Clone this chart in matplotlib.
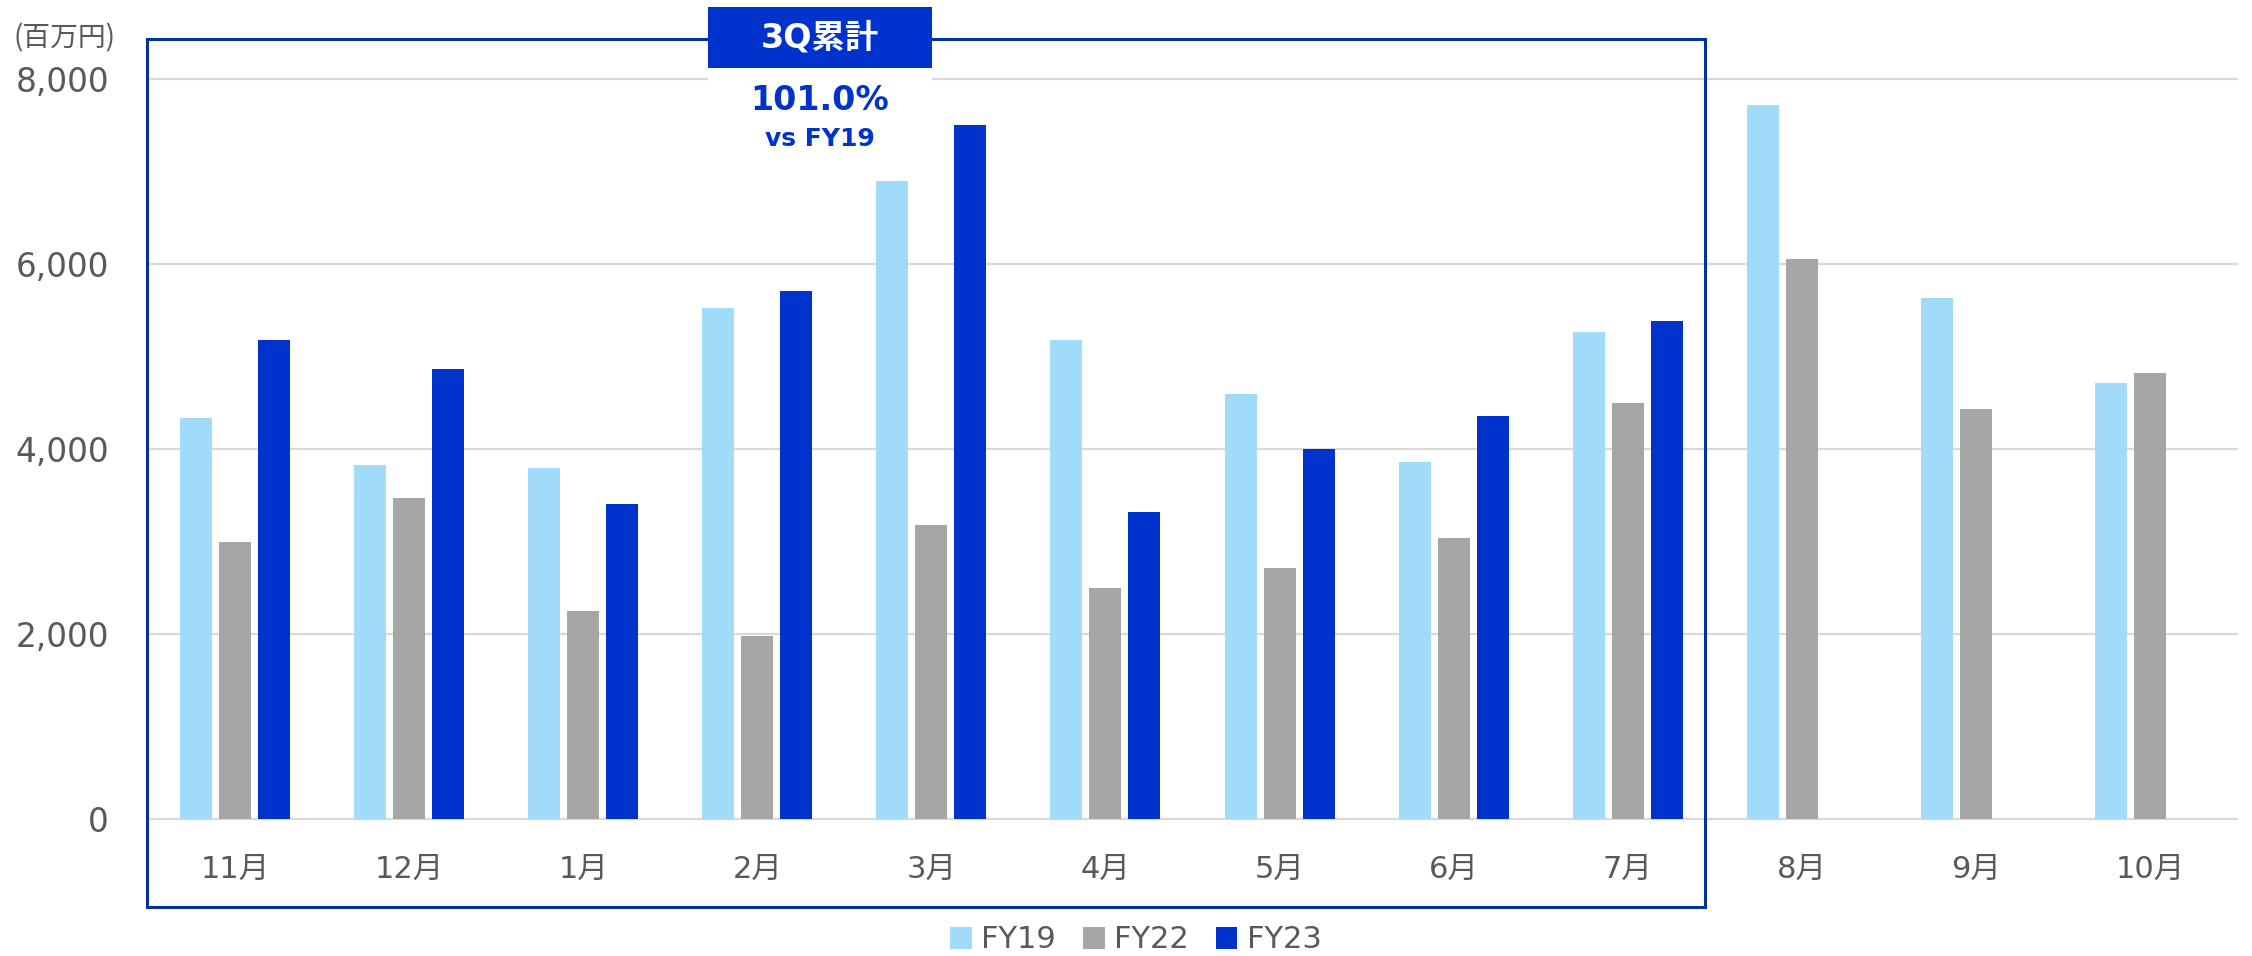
import numpy as np
import matplotlib.pyplot as plt
from matplotlib.patches import Rectangle, Patch
from matplotlib.ticker import FuncFormatter

plt.rcParams['font.family'] = ['DejaVu Sans', 'Noto Sans CJK JP']

# ---- data (百万円) ----
months = ['11月', '12月', '1月', '2月', '3月', '4月', '5月', '6月', '7月', '8月', '9月', '10月']
fy19 = [4340, 3830, 3800, 5520, 6900, 5180, 4600, 3860, 5270, 7720, 5630, 4710]
fy22 = [2990, 3470, 2250, 1980, 3180, 2500, 2710, 3040, 4500, 6050, 4430, 4820]
fy23 = [5180, 4870, 3410, 5710, 7500, 3320, 4000, 4360, 5380, np.nan, np.nan, np.nan]
series_names = ['FY19', 'FY22', 'FY23']
colors = ['#A0DCFA', '#A6A6A6', '#0033CC']

W, H = 2252, 956
fig = plt.figure(figsize=(W / 100, H / 100), dpi=100)
ax = fig.add_axes([148 / W, 1 - 819 / H, (2237 - 148) / W, (819 - 79) / H])

x = np.arange(len(months))
bw = 0.184
off = 0.224
for i, (vals, c) in enumerate(zip([fy19, fy22, fy23], colors)):
    ax.bar(x + (i - 1) * off, vals, width=bw, color=c, zorder=3)

ax.set_xlim(-0.5, len(months) - 0.5)
ax.set_ylim(0, 8000)
ax.set_yticks([0, 2000, 4000, 6000, 8000])
ax.yaxis.set_major_formatter(FuncFormatter(lambda v, p: f"{int(v):,}"))
ax.set_xticks(x)
ax.set_xticklabels(months)
ax.tick_params(axis='y', length=0, pad=28, labelsize=23.5, labelcolor='#595959')
ax.tick_params(axis='x', length=0, pad=26, labelsize=22, labelcolor='#595959')

ax.grid(axis='y', color='#D9D9D9', linewidth=1.6, zorder=0)
for gl in ax.get_ygridlines():
    gl.set_clip_on(False)
ax.set_axisbelow(True)
for s in ax.spines.values():
    s.set_visible(False)

# unit label
fig.text(14 / W, 1 - 38 / H, '(百万円)', fontsize=20, color='#595959',
         ha='left', va='center', family=['Noto Sans CJK JP'])

# 3Q box outline
fig.add_artist(Rectangle((147 / W, 1 - 907 / H), (1705 - 147) / W, (907 - 39) / H,
                         transform=fig.transFigure, fill=False,
                         edgecolor='#0033A0', linewidth=2.2, zorder=5))
# white area behind the annotation
fig.add_artist(Rectangle((708 / W, 1 - 158 / H), (932 - 708) / W, (158 - 68) / H,
                         transform=fig.transFigure, facecolor='white',
                         edgecolor='none', zorder=6))
# label tag
fig.add_artist(Rectangle((708 / W, 1 - 68 / H), (932 - 708) / W, (68 - 7) / H,
                         transform=fig.transFigure, facecolor='#0033CC',
                         edgecolor='none', zorder=7))
fig.text(820 / W, 1 - 38 / H, '3Q累計', fontsize=24, color='white', fontweight='bold',
         ha='center', va='center', zorder=8)
fig.text(820 / W, 1 - 101 / H, '101.0%', fontsize=24, color='#0033CC', fontweight='bold',
         ha='center', va='center', zorder=8)
fig.text(820 / W, 1 - 139 / H, 'vs FY19', fontsize=18, color='#0033CC', fontweight='bold',
         ha='center', va='center', zorder=8)

# legend
handles = [Patch(facecolor=c, edgecolor='none', label=n) for n, c in zip(series_names, colors)]
leg = fig.legend(handles=handles, loc='center', bbox_to_anchor=(1136 / W, 1 - 940 / H),
                 ncol=3, frameon=False, fontsize=22, handlelength=0.7, handleheight=0.7,
                 handletextpad=0.3, columnspacing=0.9, borderaxespad=0)
for t in leg.get_texts():
    t.set_color('#595959')

fig.savefig('out.png', dpi=100)
